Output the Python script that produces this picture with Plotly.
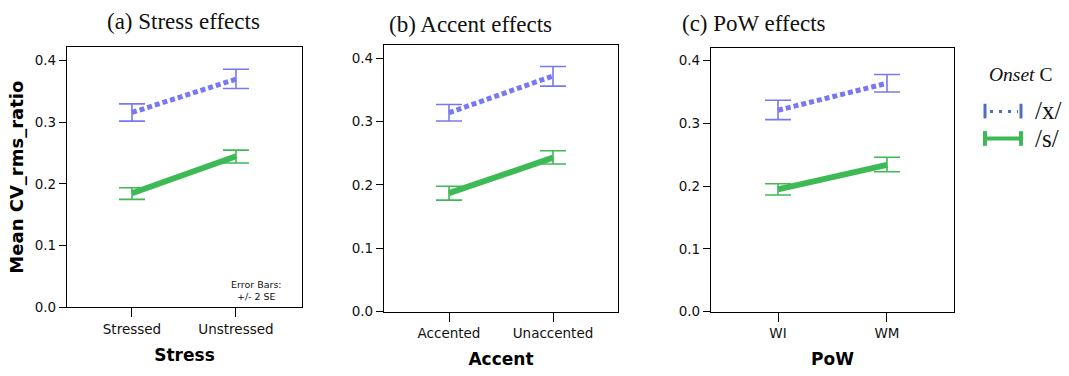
import plotly.graph_objects as go

W, H = 1069, 376

# ---- data ----
panel_titles = ["(a) Stress effects", "(b) Accent effects", "(c) PoW effects"]
x_titles = ["Stress", "Accent", "PoW"]
cats_a = ["Stressed", "Unstressed"]
cats_b = ["Accented", "Unaccented"]
cats_c = ["WI", "WM"]

x_mean_a = [0.316, 0.370]
x_lo_a = [0.302, 0.355]
x_hi_a = [0.330, 0.386]
s_mean_a = [0.185, 0.245]
s_lo_a = [0.175, 0.234]
s_hi_a = [0.194, 0.255]

x_mean_b = [0.314, 0.372]
x_lo_b = [0.301, 0.356]
x_hi_b = [0.327, 0.387]
s_mean_b = [0.187, 0.243]
s_lo_b = [0.176, 0.233]
s_hi_b = [0.198, 0.254]

x_mean_c = [0.321, 0.364]
x_lo_c = [0.306, 0.350]
x_hi_c = [0.337, 0.378]
s_mean_c = [0.195, 0.234]
s_lo_c = [0.186, 0.223]
s_hi_c = [0.204, 0.246]

y_ticks = [0.0, 0.1, 0.2, 0.3, 0.4]
y_tick_labels = ["0.0", "0.1", "0.2", "0.3", "0.4"]

BLUE = "#7878F4"
GREEN = "#3DBA56"
LEG_BLUE = "#4D6FC2"

# pixel boxes: (left, right, top, bottom)
boxes = [(67, 302, 48, 314), (384, 618, 46, 318.5), (711, 954, 49, 318.5)]
xranges = [[-0.625, 1.635], [-0.625, 1.625], [-0.615, 1.615]]
ytop = [0.4 + 14 / 630, 0.4 + 13.5 / 649, 0.4 + 13 / 643]

fig = go.Figure()

def px_x(v):
    return v / W

def px_y(v):
    return 1 - v / H

panels = [
    (cats_a, x_mean_a, x_lo_a, x_hi_a, s_mean_a, s_lo_a, s_hi_a),
    (cats_b, x_mean_b, x_lo_b, x_hi_b, s_mean_b, s_lo_b, s_hi_b),
    (cats_c, x_mean_c, x_lo_c, x_hi_c, s_mean_c, s_lo_c, s_hi_c),
]

TICKFONT = dict(family="DejaVu Sans", size=13.5, color="#111")

for i, (cats, xm, xl, xh, sm, sl, sh) in enumerate(panels):
    n = "" if i == 0 else str(i + 1)
    for mean, lo, hi, col, dash, lw in [
        (sm, sl, sh, GREEN, "solid", 6),
        (xm, xl, xh, BLUE, "5px,3px", 5),
    ]:
        fig.add_trace(go.Scatter(
            x=cats, y=mean, mode="lines",
            line=dict(color=col, width=lw, dash=dash),
            error_y=dict(type="data", symmetric=False,
                         array=[h - m for h, m in zip(hi, mean)],
                         arrayminus=[m - l for m, l in zip(mean, lo)],
                         color=col, thickness=1.6, width=13),
            xaxis="x" + n, yaxis="y" + n, showlegend=False,
            hoverinfo="skip",
        ))
    l, r, t, b = boxes[i]
    fig.layout["xaxis" + n] = dict(
        domain=[px_x(l), px_x(r)], anchor="y" + n,
        type="category", range=xranges[i],
        showline=True, linecolor="black", linewidth=1.3, mirror=True,
        ticks="outside", ticklen=9, tickwidth=1.3, tickcolor="black",
        showgrid=False, zeroline=False,
        tickfont=TICKFONT,
        title=dict(text="<b>%s</b>" % x_titles[i],
                   font=dict(family="DejaVu Sans", size=17, color="black"),
                   standoff=13),
    )
    fig.layout["yaxis" + n] = dict(
        domain=[px_y(b), px_y(t)], anchor="x" + n,
        range=[0, ytop[i]],
        tickvals=y_ticks, ticktext=y_tick_labels,
        showline=True, linecolor="black", linewidth=1.3, mirror=True,
        ticks="outside", ticklen=7, tickwidth=1.3, tickcolor="black",
        showgrid=False, zeroline=False,
        tickfont=TICKFONT,
    )

fig.layout.yaxis.title = dict(text="<b>Mean CV_rms_ratio</b>",
                              font=dict(family="DejaVu Sans", size=18, color="black"),
                              standoff=6)

annotations = []
title_pos = [(183, 22), (470, 25), (754, 24)]
for (cx, cy), txt in zip(title_pos, panel_titles):
    annotations.append(dict(x=px_x(cx), y=px_y(cy), xref="paper", yref="paper",
                            text=txt, showarrow=False, xanchor="center", yanchor="middle",
                            font=dict(family="Liberation Serif", size=23, color="#111")))

annotations.append(dict(x=px_x(256), y=px_y(297), xref="paper", yref="paper",
                        text="Error Bars:<br>+/- 2 SE", showarrow=False,
                        xanchor="center", yanchor="middle", align="center",
                        font=dict(family="DejaVu Sans", size=9.5, color="#111")))

# legend
annotations.append(dict(x=px_x(987), y=px_y(76), xref="paper", yref="paper",
                        text="<i>Onset</i> C", showarrow=False, xanchor="left", yanchor="middle",
                        font=dict(family="Liberation Serif", size=19.5, color="#111")))
annotations.append(dict(x=px_x(1033), y=px_y(113), xref="paper", yref="paper",
                        text="/x/", showarrow=False, xanchor="left", yanchor="middle",
                        font=dict(family="Liberation Serif", size=25, color="#111")))
annotations.append(dict(x=px_x(1033), y=px_y(142), xref="paper", yref="paper",
                        text="/s/", showarrow=False, xanchor="left", yanchor="middle",
                        font=dict(family="Liberation Serif", size=25, color="#111")))

shapes = []
def seg(x0, y0, x1, y1, col, w, dash="solid"):
    shapes.append(dict(type="line", xref="paper", yref="paper",
                       x0=px_x(x0), y0=px_y(y0), x1=px_x(x1), y1=px_y(y1),
                       line=dict(color=col, width=w, dash=dash)))

seg(985, 106, 985, 121, LEG_BLUE, 3)
seg(1021, 106, 1021, 121, LEG_BLUE, 3)
seg(990, 114, 1018, 114, LEG_BLUE, 3, "3px,6px")
seg(985, 134, 985, 149, GREEN, 4)
seg(1021, 134, 1021, 149, GREEN, 4)
seg(985, 141.5, 1021, 141.5, GREEN, 4)

fig.update_layout(width=W, height=H, margin=dict(l=0, r=0, t=0, b=0),
                  paper_bgcolor="white", plot_bgcolor="white",
                  annotations=annotations, shapes=shapes)

fig.write_html("out.html", config={"displayModeBar": False},
               post_script="document.body.style.margin='0';document.body.style.overflow='hidden';")
